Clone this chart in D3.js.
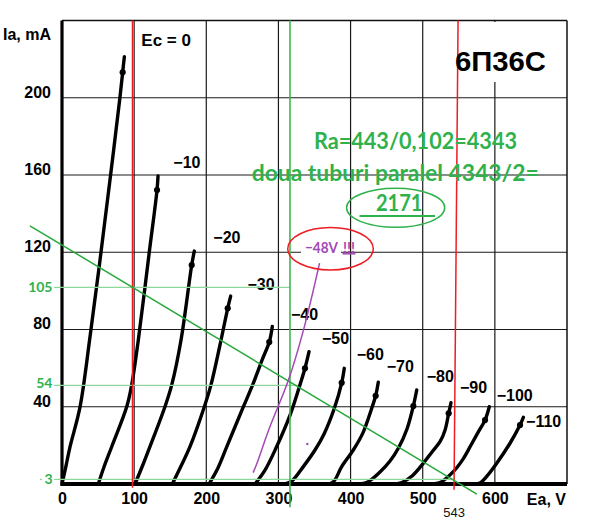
<!DOCTYPE html>
<html><head><meta charset="utf-8">
<script src="https://cdn.jsdelivr.net/npm/d3@7"></script>
<style>body{margin:0;background:#fff}svg{display:block}</style>
</head><body>
<svg id="c" width="600" height="531"></svg>
<script>
// ---- data ----
const xTicks = [0,100,200,300,400,500,600];
const yTicks = [40,80,120,160,200];
const xGrid = [100,200,300,400,500,600];
const yGrid = [40,80,120,160,200];
const gridBias = [0,-10,-20,-30,-40,-50,-60,-70,-80,-90,-100,-110];
const curve0  = [[0,0],[5.5,9.3],[11.1,19.2],[25,39.9],[38.8,76.1],[52.7,116],[66.5,157.4],[80.4,200.4],[84.1,213.2],[86.4,221.2]];
const curve10 = [[50.3,0],[58.2,8.8],[68.9,19.3],[89.7,40],[96.6,51.3],[105.8,74.6],[121,120.1],[131.7,152.2],[133.1,159.5]];
const curve20 = [[101.2,0],[110.9,8.8],[121.9,19.3],[142.7,40],[152.1,51.3],[165,74.6],[179.8,113.4],[183.4,120.6]];
const curve30 = [[152.9,0],[165,9.3],[177.4,19.3],[197.3,40],[206.5,51.3],[219,72],[229.7,91],[233.8,97.3]];
const curve40 = [[203.8,0],[216.2,8.3],[228.3,19.2],[251.3,39.9],[264.8,51.8],[277.3,64.2],[287.3,73.5],[291.5,81.6]];
const curve50 = [[267.5,0],[281.4,7.2],[296.6,18.6],[316.1,35.7],[328.5,49.7],[336.8,59.9],[342.4,68.5]];
const curve60 = [[309.1,0],[318.8,1.6],[334.5,9],[350.7,17.6],[363.6,26.2],[377.5,39.2],[387.7,52.4],[391.3,59.9]];
const curve70 = [[364.6,0],[375.7,1],[387.7,9],[403.8,17.6],[416.8,26.2],[429.3,39.2],[434.8,45.7],[438.4,52.7]];
const curve80 = [[413.1,0],[424.6,1.2],[440.8,6.2],[454.7,11.9],[466.2,18.5],[478.2,28.5],[487,40.4],[491.7,48.7]];
const curve90 = [[461.6,0],[470.9,0.7],[485.2,4.1],[500.8,10.7],[512.9,16.6],[524,21.9],[531,28],[536,36.6],[539.2,42.1]];
const curve100= [[512.9,0],[524,0.7],[542.4,6.4],[555.9,12.9],[567,20.2],[576.7,26.7],[586.4,33.1],[592.3,40]];
const curve110= [[569.7,0],[579.4,0.5],[590.5,4.7],[602.6,10.7],[621,21.1],[634.9,30.5],[639.5,34.5]];
const curves = [curve0,curve10,curve20,curve30,curve40,curve50,curve60,curve70,curve80,curve90,curve100,curve110];
const labelOffsets = [[17,-10.5],[15.3,-8.3],[19,-7.7],[16.8,-6],[18.7,-6.3],[13,-7.4],[12.4,-8.3],[8.4,-10.6],[10,-8.3],[9,-9.4],[7.4,-5.7],[2.7,9.4]];

// annotation data
const refLevels = [101.8, 51.1, 2.4];          // drawn positions of the light green lines
const refLabels = ['105','54','3'];
const refEnds   = [316, 327, 543];             // right end (V) of each light line
const loadLine  = [[-44.4,133.7],[575,-5.2]];
const redLeft   = [[97.7,240],[97.7,-2]];
const redRight  = [[549,240],[543.4,-3]];
const greenVert = [[316,240],[316,-12]];
const purpleLine= [[357,114.4],[334.7,79.7],[313.9,53.8],[286.5,28],[270.4,10.9],[264.9,5.9]];
const redEllipse   = {v:372.2, i:121.8, rv:59.3, ri:11};
const greenEllipse = {v:462.5, i:143, rv:68, ri:10.1};

// ---- chart ----
const svg = d3.select('#c');
const x = d3.scaleLinear().domain([0,700]).range([62,567]);
const y = d3.scaleLinear().domain([0,240]).range([484,20.5]);
const FONT = "'Liberation Sans', Arial, Helvetica, sans-serif";
const GFONT = "Lato, 'Liberation Sans', sans-serif";
const GREEN = '#2fb24c', RED = '#ee1c24', PURPLE = '#a349b4';

// grid
svg.append('g').selectAll('line').data(xGrid).join('line')
  .attr('x1',d=>x(d)).attr('x2',d=>x(d)).attr('y1',y(0)).attr('y2',y(240))
  .attr('stroke','#1a1a1a').attr('stroke-width',1.2);
svg.append('g').selectAll('line').data(yGrid).join('line')
  .attr('x1',x(0)).attr('x2',x(700)).attr('y1',d=>y(d)).attr('y2',d=>y(d))
  .attr('stroke','#1a1a1a').attr('stroke-width',1.2);
// frame
svg.append('line').attr('x1',x(0)).attr('x2',x(700)).attr('y1',y(240)).attr('y2',y(240)).attr('stroke','#111').attr('stroke-width',1.5);
svg.append('line').attr('x1',x(700)).attr('x2',x(700)).attr('y1',y(240)).attr('y2',y(0)).attr('stroke','#111').attr('stroke-width',1.5);
svg.append('line').attr('x1',x(0)).attr('x2',x(0)).attr('y1',y(240)).attr('y2',y(0)+2).attr('stroke','#000').attr('stroke-width',3.2);
svg.append('line').attr('x1',x(0)).attr('x2',x(700)).attr('y1',y(0)).attr('y2',y(0)).attr('stroke','#000').attr('stroke-width',4);

// white patches where the scan hides grid lines
svg.append('rect').attr('x',452).attr('y',22).attr('width',96).attr('height',60).attr('fill','#fff');
svg.append('rect').attr('x',301).attr('y',242).attr('width',40).attr('height',15).attr('fill','#fff');

// axis labels
const xa = svg.append('g').attr('transform',`translate(0,${y(0)})`)
  .call(d3.axisBottom(x).tickValues(xTicks).tickSize(0).tickPadding(9).tickFormat(d3.format('d')));
xa.select('.domain').remove();
xa.attr('font-family',FONT).attr('font-size',16).attr('font-weight','bold');
xa.selectAll('text').attr('fill','#000');
const ya = svg.append('g').attr('transform',`translate(${x(0)},0)`)
  .call(d3.axisLeft(y).tickValues(yTicks).tickSize(0).tickPadding(11).tickFormat(d3.format('d')));
ya.select('.domain').remove();
ya.attr('font-family',FONT).attr('font-size',16).attr('font-weight','bold');
ya.selectAll('text').attr('fill','#000').attr('dy','-0.04em');

svg.append('text').attr('x',51).attr('y',40).attr('text-anchor','end')
  .attr('font-family',FONT).attr('font-size',16).attr('font-weight','bold').text('Ia, mA');
svg.append('text').attr('x',x(700)-1).attr('y',505).attr('text-anchor','end')
  .attr('font-family',FONT).attr('font-size',16).attr('font-weight','bold').text('Ea, V');

// curves
const line = d3.line().x(d=>x(d[0])).y(d=>y(d[1])).curve(d3.curveCatmullRom.alpha(0.5));
svg.append('g').selectAll('path').data(curves).join('path')
  .attr('d',line).attr('fill','none').attr('stroke','#000').attr('stroke-width',3.4)
  .attr('stroke-linecap','round').attr('stroke-linejoin','round');
svg.append('g').selectAll('circle').data(curves).join('circle')
  .attr('cx',d=>x(d[d.length-2][0])).attr('cy',d=>y(d[d.length-2][1])).attr('r',3.1).attr('fill','#000');
svg.append('g').selectAll('text').data(curves).join('text')
  .attr('x',(d,i)=>x(d[d.length-1][0])+labelOffsets[i][0])
  .attr('y',(d,i)=>y(d[d.length-1][1])+labelOffsets[i][1])
  .attr('font-family',FONT).attr('font-size',(d,i)=>i===0?17:16).attr('font-weight','bold')
  .text((d,i)=> i===0 ? 'Ec = 0' : '\u2212'+Math.abs(gridBias[i]));

// light green reference levels
svg.append('g').selectAll('line').data(refLevels).join('line')
  .attr('x1',x(-11)).attr('x2',(d,i)=>x(refEnds[i])).attr('y1',d=>y(d)).attr('y2',d=>y(d))
  .attr('stroke','#8fd69c').attr('stroke-width',1.2);
svg.append('g').selectAll('text').data(refLevels).join('text')
  .attr('x',52.5).attr('y',(d,i)=>y(d)+ (i===1?3:5)).attr('text-anchor','end')
  .attr('font-family',GFONT).attr('font-size',14).attr('font-weight','bold').attr('fill',GREEN)
  .text((d,i)=>refLabels[i]);
svg.append('line').attr('x1',40).attr('x2',42).attr('y1',y(refLevels[2])).attr('y2',y(refLevels[2]))
  .attr('stroke','#8fd69c').attr('stroke-width',1.2);

// red & green verticals, load line
const seg = d3.line().x(d=>x(d[0])).y(d=>y(d[1]));
svg.append('path').attr('d',seg(redLeft)).attr('stroke',RED).attr('stroke-width',1.5).attr('fill','none');
svg.append('path').attr('d',seg(redRight)).attr('stroke',RED).attr('stroke-width',1.5).attr('fill','none');
svg.append('path').attr('d',seg(greenVert)).attr('stroke','#3cb84e').attr('stroke-width',1.6).attr('fill','none');
svg.append('path').attr('d',seg(loadLine)).attr('stroke','#26a83c').attr('stroke-width',1.5).attr('fill','none');
svg.append('text').attr('x',x(543.4)).attr('y',516.5).attr('text-anchor','middle')
  .attr('font-family',FONT).attr('font-size',13).attr('fill','#111').text('543');

// purple line
svg.append('path').attr('d',line(purpleLine)).attr('stroke',PURPLE).attr('stroke-width',1.5).attr('fill','none');
svg.append('circle').attr('cx',x(340)).attr('cy',y(20.7)).attr('r',1.2).attr('fill',PURPLE);

// ellipses
function ell(e,color){
  svg.append('ellipse').attr('cx',x(e.v)).attr('cy',y(e.i))
    .attr('rx',x(e.v+e.rv)-x(e.v)).attr('ry',y(e.i)-y(e.i+e.ri))
    .attr('fill','none').attr('stroke',color).attr('stroke-width',1.5);
}
ell(redEllipse,RED);
ell(greenEllipse,GREEN);

// annotations
svg.append('text').attr('x',305).attr('y',252.5).attr('font-family',GFONT).attr('font-size',15.5)
  .attr('font-weight','bold').attr('fill',PURPLE).attr('textLength',33).attr('lengthAdjust','spacingAndGlyphs').text('\u221248V');
svg.append('text').attr('x',343).attr('y',252.5).attr('font-family',GFONT).attr('font-size',15.5)
  .attr('font-weight','bold').attr('fill',PURPLE).attr('textLength',12).attr('lengthAdjust','spacingAndGlyphs').text('!!!');
svg.append('line').attr('x1',342.5).attr('x2',355.5).attr('y1',253.8).attr('y2',253.8).attr('stroke',PURPLE).attr('stroke-width',1.5);

svg.append('text').attr('x',314).attr('y',149.3).attr('font-family',GFONT).attr('font-size',22)
  .attr('font-weight','bold').attr('fill',GREEN).attr('textLength',203).attr('lengthAdjust','spacingAndGlyphs').text('Ra=443/0,102=4343');
svg.append('text').attr('x',251.7).attr('y',180.7).attr('font-family',GFONT).attr('font-size',22)
  .attr('font-weight','bold').attr('fill',GREEN).attr('textLength',287).attr('lengthAdjust','spacingAndGlyphs').text('doua tuburi paralel 4343/2=');
svg.append('text').attr('x',376).attr('y',210.7).attr('font-family',GFONT).attr('font-size',22)
  .attr('font-weight','bold').attr('fill',GREEN).attr('textLength',46.5).attr('lengthAdjust','spacingAndGlyphs').text('2171');
svg.append('line').attr('x1',359.5).attr('x2',435).attr('y1',216).attr('y2',216).attr('stroke',GREEN).attr('stroke-width',2.2);

svg.append('text').attr('x',455).attr('y',70.7).attr('font-family',FONT).attr('font-size',27)
  .attr('font-weight','bold').attr('fill','#000').attr('textLength',91).attr('lengthAdjust','spacingAndGlyphs').text('6П36С');
</script>
</body></html>
